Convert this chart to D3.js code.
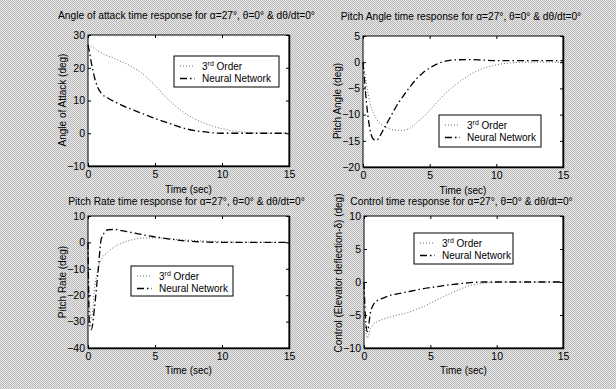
<!DOCTYPE html>
<html>
<head>
<meta charset="utf-8">
<script src="https://cdn.jsdelivr.net/npm/d3@7/dist/d3.min.js"></script>
<style>
  html, body { margin: 0; padding: 0; background: #d0d0d0; }
  svg { display: block; }
  text { font-family: "Liberation Sans", Arial, Helvetica, sans-serif; fill: #000; }
</style>
</head>
<body>
<svg id="chart" width="616" height="389"></svg>
<script>
// Shared time grid (sec) for all four responses
const timeSec = [0, 0.1, 0.25, 0.5, 0.75, 1, 1.5, 2, 2.5, 3, 3.5, 4, 4.5, 5, 5.5, 6, 7, 8, 9, 10, 11, 12, 13, 15];

// Angle of attack (deg)
const alpha3rd = [27, 26.9, 26.5, 25.8, 25.1, 24.5, 23.6, 22.8, 21.8, 20.9, 19.8, 18.4, 16.6, 14.6, 12.4, 10.3, 6.8, 4.3, 2.6, 1.4, 0.6, 0.2, 0.05, 0];
const alphaNN  = [27, 25, 21.5, 16.8, 13.8, 12.2, 10.7, 9.6, 8.6, 7.7, 6.9, 6.1, 5.3, 4.5, 3.8, 3.1, 1.7, 0.8, 0.25, 0, 0, 0, 0, 0];

// Pitch angle (deg)
const theta3rd = [0, -1.5, -4, -7.5, -9.6, -10.8, -12.1, -12.7, -13, -13, -12.6, -11.6, -10.5, -9.2, -7.8, -6.4, -4.2, -2.4, -1.2, -0.5, -0.15, 0, 0, 0];
const thetaNN  = [0, -3, -7.5, -12.5, -14.6, -14.9, -13, -10.7, -8.4, -6.5, -4.8, -3.2, -2.0, -1.1, -0.4, 0.1, 0.45, 0.5, 0.4, 0.3, 0.3, 0.3, 0.3, 0.3];

// Pitch rate (deg)
const q3rd = [0, -22, -29, -17, -10, -6.5, -3.5, -1.6, -0.3, 0.6, 1.2, 1.6, 1.7, 1.7, 1.6, 1.4, 1.0, 0.7, 0.45, 0.25, 0.1, 0.05, 0, 0];
const qNN  = [0, -30, -33, -24, -11, 1.5, 4.8, 4.9, 4.5, 4.0, 3.5, 3.0, 2.5, 2.1, 1.7, 1.35, 0.7, 0.3, 0.1, 0, 0, 0, 0, 0];

// Elevator deflection (deg)
const de3rd = [0, -6, -8.5, -7, -6.3, -6, -5.6, -5.3, -5.0, -4.8, -4.5, -4.1, -3.7, -3.2, -2.7, -2.2, -1.3, -0.55, -0.2, -0.05, 0, 0, 0, 0];
const deNN  = [0, -5, -7.5, -4.5, -3.3, -2.8, -2.4, -2.0, -1.8, -1.6, -1.4, -1.2, -1.0, -0.85, -0.7, -0.55, -0.3, -0.1, 0, 0, 0, 0, 0, 0];

// Axis ticks
const timeTicks  = [0, 5, 10, 15];
const alphaTicks = [-10, 0, 10, 20, 30];
const thetaTicks = [-20, -15, -10, -5, 0, 5];
const qTicks     = [-40, -30, -20, -10, 0, 10];
const deTicks    = [-10, -5, 0, 5, 10];

// Text
const seriesNames = ["3rd Order", "Neural Network"];
const panelTitles = [
  "Angle of attack time response for \u03b1=27\u00b0, \u03b8=0\u00b0 & d\u03b8/dt=0\u00b0",
  "Pitch Angle time response for \u03b1=27\u00b0, \u03b8=0\u00b0 & d\u03b8/dt=0\u00b0",
  "Pitch Rate time response for \u03b1=27\u00b0, \u03b8=0\u00b0 & d\u03b8/dt=0\u00b0",
  "Control time response for \u03b1=27\u00b0, \u03b8=0\u00b0 & d\u03b8/dt=0\u00b0"
];
const yLabels = ["Angle of Attack (deg)", "Pitch Angle (deg)", "Pitch Rate (deg)", "Control (Elevator deflection-\u03b4) (deg)"];
const xLabel = "Time (sec)";

// Panel layout
const panels = [
  { box: [88, 35, 289, 166], y: alpha3rd, yn: alphaNN, dom: [-10, 30], ticks: alphaTicks, legend: [174, 56, 105, 31], title: panelTitles[0], yl: yLabels[0], ylc: 100 },
  { box: [363, 36, 563, 167], y: theta3rd, yn: thetaNN, dom: [-20, 5], ticks: thetaTicks, legend: [439, 115, 102, 32], title: panelTitles[1], yl: yLabels[1], ylc: 101 },
  { box: [88, 216, 289, 348], y: q3rd, yn: qNN, dom: [-40, 10], ticks: qTicks, legend: [131, 266, 102, 30], title: panelTitles[2], yl: yLabels[2], ylc: 282 },
  { box: [364, 216, 563, 348], y: de3rd, yn: deNN, dom: [-10, 10], ticks: deTicks, legend: [414, 233, 99, 31], title: panelTitles[3], yl: yLabels[3], ylc: 273 }
];

const svg = d3.select("#chart");

// Dithered grey backdrop
const defs = svg.append("defs");
const pat = defs.append("pattern").attr("id", "grain").attr("width", 2).attr("height", 2).attr("patternUnits", "userSpaceOnUse");
pat.append("rect").attr("width", 2).attr("height", 2).attr("fill", "#e8e8e8");
pat.append("rect").attr("x", 0).attr("y", 0).attr("width", 1).attr("height", 1).attr("fill", "#bababa");
pat.append("rect").attr("x", 1).attr("y", 1).attr("width", 1).attr("height", 1).attr("fill", "#bababa");
svg.append("rect").attr("width", 616).attr("height", 389).attr("fill", "url(#grain)");

const styles = [
  { stroke: "#6a6a6a", width: 1, dash: "1,2" },
  { stroke: "#000", width: 1.3, dash: "7,3,1.5,3" }
];

panels.forEach((p, i) => {
  const [x0, y0, x1, y1] = p.box;
  const x = d3.scaleLinear().domain([0, 15]).range([x0, x1]);
  const y = d3.scaleLinear().domain(p.dom).range([y1, y0]);
  const g = svg.append("g");

  g.append("rect").attr("x", x0).attr("y", y0).attr("width", x1 - x0).attr("height", y1 - y0).attr("fill", "#fff");

  // Curves
  const line = d3.line().x(d => x(d[0])).y(d => y(d[1])).curve(d3.curveMonotoneX);
  [p.y, p.yn].forEach((vals, k) => {
    g.append("path")
      .datum(timeSec.map((t, j) => [t, vals[j]]))
      .attr("d", line)
      .attr("fill", "none")
      .attr("stroke", styles[k].stroke)
      .attr("stroke-width", styles[k].width)
      .attr("stroke-dasharray", styles[k].dash);
  });

  // Axes with inward ticks on all four sides
  const fmt = d3.format("d");
  const axB = g.append("g").attr("transform", `translate(0,${y1})`)
    .call(d3.axisBottom(x).tickValues(timeTicks).tickSize(-3).tickPadding(5).tickFormat(fmt));
  const axL = g.append("g").attr("transform", `translate(${x0},0)`)
    .call(d3.axisLeft(y).tickValues(p.ticks).tickSize(-3).tickPadding(3).tickFormat(fmt));
  const axT = g.append("g").attr("transform", `translate(0,${y0})`)
    .call(d3.axisTop(x).tickValues(timeTicks).tickSize(-3).tickFormat(""));
  const axR = g.append("g").attr("transform", `translate(${x1},0)`)
    .call(d3.axisRight(y).tickValues(p.ticks).tickSize(-3).tickFormat(""));
  [axB, axL, axT, axR].forEach(a => {
    a.select(".domain").remove();
    a.selectAll("line").attr("stroke", "#000");
    a.selectAll("text").attr("font-size", 10.5).attr("font-family", null).attr("fill", "#000");
  });

  // Frame
  g.append("rect").attr("x", x0).attr("y", y0).attr("width", x1 - x0).attr("height", y1 - y0)
    .attr("fill", "none").attr("stroke", "#000").attr("stroke-width", 1);
  g.append("path").attr("d", `M${x1 + 0.5},${y0}V${y1 + 0.5}H${x0}`)
    .attr("fill", "none").attr("stroke", "#000").attr("stroke-width", 1.5);

  // Title and axis labels
  g.append("text").attr("x", (x0 + x1) / 2 - 2).attr("y", y0 - 16 + (i >= 2 ? 5 : 0))
    .attr("text-anchor", "middle").attr("font-size", 10.2).text(p.title);
  g.append("text").attr("x", (x0 + x1) / 2).attr("y", y1 + 27 + (i >= 2 ? -1 : 0))
    .attr("text-anchor", "middle").attr("font-size", 10).text(xLabel);
  g.append("text").attr("transform", `translate(${x0 - 22},${p.ylc}) rotate(-90)`)
    .attr("text-anchor", "middle").attr("font-size", 10).text(p.yl);

  // Legend
  const [lx, ly, lw, lh] = p.legend;
  const lg = g.append("g");
  lg.append("rect").attr("x", lx).attr("y", ly).attr("width", lw).attr("height", lh)
    .attr("fill", "#fff").attr("stroke", "#000").attr("stroke-width", 1);
  seriesNames.forEach((name, k) => {
    const ry = ly + 10 + k * 12.5;
    lg.append("line").attr("x1", lx + 6).attr("x2", lx + 21).attr("y1", ry).attr("y2", ry)
      .attr("stroke", styles[k].stroke).attr("stroke-width", styles[k].width)
      .attr("stroke-dasharray", styles[k].dash);
    const t = lg.append("text").attr("x", lx + 28).attr("y", ry + 3.5).attr("font-size", 10);
    if (k === 0) {
      t.append("tspan").text("3");
      t.append("tspan").attr("font-size", 7).attr("dy", -4).text("rd");
      t.append("tspan").attr("dy", 4).text(" Order");
    } else {
      t.text(name);
    }
  });
});
</script>
</body>
</html>
